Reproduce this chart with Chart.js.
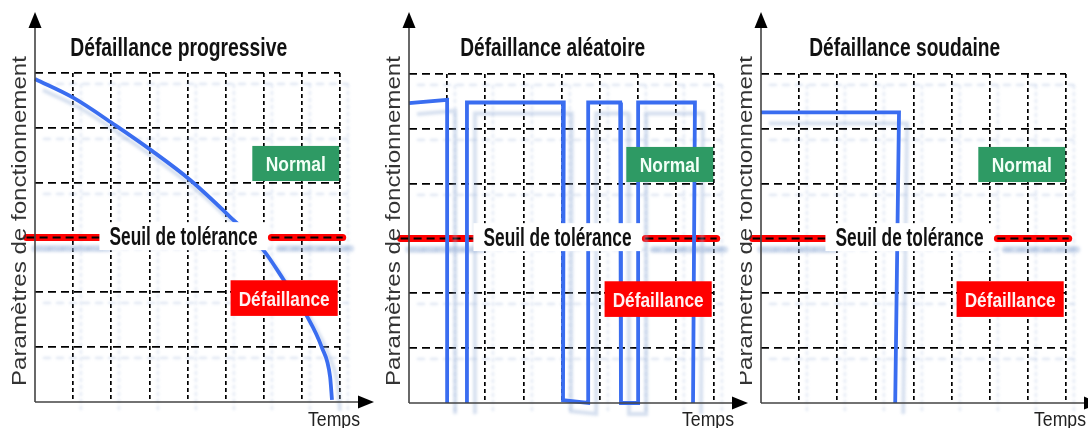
<!DOCTYPE html>
<html>
<head>
<meta charset="utf-8">
<script src="https://cdn.jsdelivr.net/npm/chart.js@4"></script>
<style>
  body { margin: 0; background: #fff; width: 1088px; height: 428px; overflow: hidden; position: relative; }
  .panel { position: absolute; top: 0; }
</style>
</head>
<body>
<canvas id="c3" class="panel" style="left:740px;z-index:1" width="348" height="428"></canvas>
<canvas id="c2" class="panel" style="left:370px;z-index:2" width="380" height="428"></canvas>
<canvas id="c1" class="panel" style="left:0px;z-index:3" width="380" height="428"></canvas>
<script>
const panelTitles = ["Défaillance progressive", "Défaillance aléatoire", "Défaillance soudaine"];
const yAxisTitle = "Paramètres de fonctionnement";
const xAxisTitle = "Temps";
const normalLabel = "Normal";
const failureLabel = "Défaillance";
const thresholdLabel = "Seuil de tolérance";

const thresholdLevel = 3;
const thresholdLeft = [-0.22, 1.7];
const thresholdRight = [6.2, 8.07];

// parameter vs time (time in grid units 0..8, parameter 0..6)
const progressiveX = [0, 1, 2.1, 3.07, 4.07, 5.07, 5.99, 6.52, 7.13, 7.52, 7.74, 7.79];
const progressiveY = [5.89, 5.55, 5.05, 4.58, 4.05, 3.41, 2.77, 2.23, 1.57, 1.0, 0.46, 0.04];

// null = pen lifted (no segment along the time axis)
const randomX = [0, 1.0, 1.0, 1.26, 1.52, 1.52, 4.06, 4.04, 4.7, 4.7, 5.54, 5.56, 6.01, 6.01, 7.5, 7.45];
const randomY = [5.47, 5.53, 0, null, 0, 5.48, 5.48, 0.05, 0, 5.48, 5.48, 0, 0, 5.48, 5.48, 0];

const suddenX = [0, 3.62, 3.52];
const suddenY = [5.3, 5.3, 0];

const BLUE = "#3a6df0";
const GREEN = "#2e9a64";
const RED = "#ff0000";
const NARROW = "'Liberation Sans Narrow', 'Liberation Sans', Arial, sans-serif";
const SANS = "'Liberation Sans', Arial, sans-serif";

function fitText(ctx, text, cx, cy, width, font, color, rotate) {
  ctx.save();
  ctx.font = font;
  const w = ctx.measureText(text).width;
  ctx.translate(cx, cy);
  if (rotate) ctx.rotate(-Math.PI / 2);
  ctx.scale(width / w, 1);
  ctx.textAlign = "center";
  ctx.textBaseline = rotate ? "middle" : "alphabetic";
  ctx.fillStyle = color;
  ctx.fillText(text, 0, 0);
  ctx.restore();
}

// boxes in data units: [x0, x1, yTop, yBottom]
const decor = {
  id: "decor",
  beforeDraw(chart) {
    // faint offset ghost of grid and curves, as in the scanned figure
    const ctx = chart.ctx;
    ctx.save();
    ctx.shadowColor = "rgba(150,175,215,0.4)";
    ctx.shadowOffsetX = 8;
    ctx.shadowOffsetY = 11;
    ctx.shadowBlur = 3;
  },
  afterDatasetsDraw(chart) {
    const ctx = chart.ctx, xs = chart.scales.x, ys = chart.scales.y;
    ctx.restore();
    const box = (b, fill, text, size, color, width) => {
      const x0 = xs.getPixelForValue(b[0]), x1 = xs.getPixelForValue(b[1]);
      const y0 = ys.getPixelForValue(b[2]), y1 = ys.getPixelForValue(b[3]);
      ctx.fillStyle = fill;
      ctx.fillRect(x0, y0, x1 - x0, y1 - y0);
      fitText(ctx, text, (x0 + x1) / 2, (y0 + y1) / 2 + size * 0.36, width,
        "bold " + size + "px " + NARROW, color);
    };
    box([5.7, 7.98, 4.67, 4.03], GREEN, normalLabel, 21, "#f2fff6", 60);
    box([5.13, 7.94, 2.22, 1.57], RED, failureLabel, 21, "#fff2f2", 91);
    box([1.69, 6.1, 3.28, 2.77], "#ffffff", thresholdLabel, 25, "#111", 148);
  },
  afterDraw(chart, args, opts) {
    const ctx = chart.ctx, a = chart.chartArea;
    const ax = a.left, ay = a.bottom;
    ctx.save();
    ctx.strokeStyle = "#444";
    ctx.fillStyle = "#000";
    ctx.lineWidth = 1.6;
    ctx.beginPath();
    ctx.moveTo(ax, ay); ctx.lineTo(ax, 26);
    ctx.moveTo(ax, ay); ctx.lineTo(ax + 326, ay);
    ctx.stroke();
    ctx.beginPath();
    ctx.moveTo(ax, 12); ctx.lineTo(ax - 6.5, 28); ctx.lineTo(ax + 6.5, 28); ctx.closePath();
    ctx.fill();
    ctx.beginPath();
    ctx.moveTo(ax + 339, ay); ctx.lineTo(ax + 323, ay - 6.5); ctx.lineTo(ax + 323, ay + 6.5); ctx.closePath();
    ctx.fill();
    ctx.restore();
    const tx = chart.scales.x.getPixelForValue(3.77);
    fitText(ctx, opts.title, tx, 56, opts.titleWidth, "bold 25px " + NARROW, "#111");
    fitText(ctx, yAxisTitle, ax - 15, 221, 330, "20px " + SANS, "#333", true);
    fitText(ctx, xAxisTitle, ax + 299, 426, 52, "20px " + NARROW, "#222");
  }
};

function pts(xs, ys) {
  return xs.map((x, i) => ({ x: x, y: ys[i] }));
}

function segment(range, level) {
  return [{ x: range[0], y: level }, { x: range[1], y: level }];
}

function makeChart(id, xs, ys, title, titleWidth, pad, smooth) {
  const hideZero = c => (c.tick && c.tick.value === 0) ? "rgba(0,0,0,0)" : "#000";
  new Chart(document.getElementById(id), {
    type: "line",
    data: {
      datasets: [
        { data: pts(xs, ys), borderColor: BLUE, borderWidth: 3.8, pointRadius: 0, spanGaps: false,
          cubicInterpolationMode: smooth ? "monotone" : "default", tension: 0, order: 1, clip: false },
        { data: segment(thresholdLeft, thresholdLevel), borderColor: "#000", borderWidth: 1.8,
          borderDash: [8, 5], pointRadius: 0, order: 2, clip: false },
        { data: segment(thresholdRight, thresholdLevel), borderColor: "#000", borderWidth: 1.8,
          borderDash: [8, 5], pointRadius: 0, order: 2, clip: false },
        { data: segment(thresholdLeft, thresholdLevel), borderColor: RED, borderWidth: 7,
          borderCapStyle: "round", pointRadius: 0, order: 3, clip: false },
        { data: segment(thresholdRight, thresholdLevel), borderColor: RED, borderWidth: 7,
          borderCapStyle: "round", pointRadius: 0, order: 3, clip: false }
      ]
    },
    options: {
      responsive: false,
      animation: false,
      layout: { padding: pad },
      plugins: {
        legend: { display: false },
        tooltip: { enabled: false },
        decor: { title: title, titleWidth: titleWidth }
      },
      scales: {
        x: {
          type: "linear", min: 0, max: 8,
          ticks: { display: false, stepSize: 1 },
          grid: { color: hideZero, lineWidth: 1.7, drawTicks: false },
          border: { display: false, dash: [4, 3] },
          afterFit: s => { s.height = 0; }
        },
        y: {
          min: 0, max: 6,
          ticks: { display: false, stepSize: 1 },
          grid: { color: hideZero, lineWidth: 1.7, drawTicks: false },
          border: { display: false, dash: [8, 5] },
          afterFit: s => { s.width = 0; }
        }
      }
    },
    plugins: [decor]
  });
}

makeChart("c1", progressiveX, progressiveY, panelTitles[0], 217, { left: 35, right: 40, top: 73, bottom: 26 }, true);
makeChart("c2", randomX, randomY, panelTitles[1], 185, { left: 39, right: 36, top: 74, bottom: 25 }, false);
makeChart("c3", suddenX, suddenY, panelTitles[2], 191, { left: 21, right: 22, top: 74, bottom: 25 }, false);
</script>
</body>
</html>
